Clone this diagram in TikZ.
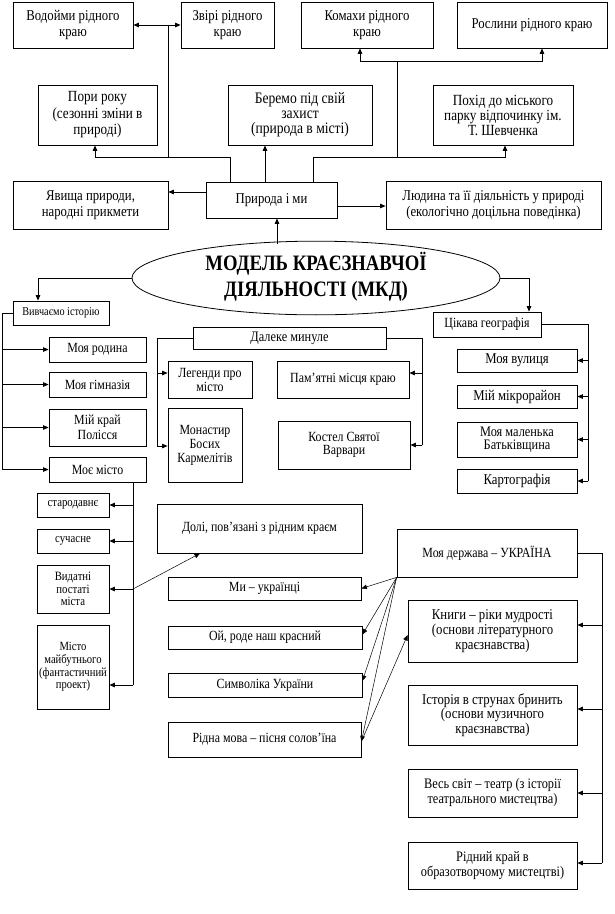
\documentclass[tikz,border=0pt]{standalone}
\usepackage{fontspec}
\setmainfont{Liberation Serif}[FakeStretch=0.85]
\usetikzlibrary{arrows.meta,shapes.geometric}
\tikzset{
  box/.style={draw,line width=0.8pt,align=center,inner sep=1pt,font=\fontsize{14}{15}\selectfont},
  topf/.style={font=\fontsize{15}{16}\selectfont},
  arr/.style={line width=0.8pt,-{Triangle[length=5.5pt,width=4.5pt]}},
  ln/.style={line width=0.8pt},
  thinarr/.style={line width=0.5pt,-{Triangle[length=5.5pt,width=4.5pt]}},
}
\newcommand\rb[7][]{\node[box,minimum width={#5-#3},minimum height={#6-#4},#1] (#2) at ({(#3+#5)/2},{(#4+#6)/2}) {#7};}
\begin{document}
\begin{tikzpicture}[x=1pt,y=-1pt]
\useasboundingbox[fill=white] (0,0) rectangle (614,914);
% top rows
\rb[topf]{vodoimy}{13}{2}{133}{48}{Водойми рідного\\краю}
\rb[topf]{zviri}{181}{2}{274}{48}{Звірі рідного\\краю}
\rb[topf]{komakhy}{301}{2}{433}{48}{Комахи рідного\\краю}
\rb[topf]{roslyny}{457}{2}{607}{48}{Рослини рідного краю}
\rb[font=\fontsize{15.5}{16.5}\selectfont]{pory}{38}{85}{157}{145}{Пори року\\(сезонні зміни в\\природі)}
\rb[font=\fontsize{16}{15}\selectfont]{beremo}{228}{85}{372}{145}{Беремо під свій\\захист\\(природа в місті)}
\rb[font=\fontsize{15.5}{15}\selectfont]{pokhid}{433}{85}{573}{145}{Похід до міського\\парку відпочинку ім.\\Т. Шевченка}
\rb[topf]{yavyshcha}{13}{181}{168}{229}{Явища природи,\\народні прикмети}
\rb[topf]{pryroda}{206}{182}{337}{218}{Природа і ми}
\rb[topf]{lyudyna}{386}{181}{601}{229}{Людина та її діяльність у природі\\(екологічно доцільна поведінка)}
\node[draw,ellipse,line width=0.8pt,minimum width=368,minimum height=70,inner sep=0pt,font=\fontsize{22}{26}\selectfont\bfseries] (model) at (316,278) {\raisebox{-6pt}{\begin{tabular}{@{}c@{}}МОДЕЛЬ КРАЄЗНАВЧОЇ\\ДІЯЛЬНОСТІ (МКД)\end{tabular}}};
% history
\rb[font=\fontsize{12}{13}\selectfont]{vyvchaiemo}{13}{301}{109}{325}{Вивчаємо історію}
\rb{rodyna}{49}{337}{146}{362}{Моя родина}
\rb{gimnaziia}{49}{372}{146}{397}{Моя гімназія}
\rb{krai}{49}{409}{146}{446}{Мій край\\Полісся}
\rb{misto}{49}{457}{146}{482}{Моє місто}
\rb[font=\fontsize{14.5}{14}\selectfont]{daleke}{193}{327}{386}{349}{Далеке минуле}
\rb[font=\fontsize{14}{14}\selectfont]{legendy}{168}{361}{252}{398}{Легенди про\\місто}
\rb[font=\fontsize{14}{14}\selectfont]{monastyr}{168}{408}{242}{482}{Монастир\\Босих\\Кармелітів}
\rb{pamiatni}{277}{361}{409}{398}{Пам’ятні місця краю}
\rb[font=\fontsize{14}{13.5}\selectfont]{kostel}{278}{421}{410}{469}{Костел Святої\\Варвари}
% geography
\rb{tsikava}{433}{312}{541}{337}{Цікава географія}
\rb[font=\fontsize{15}{15}\selectfont]{vulytsia}{457}{349}{577}{372}{Моя вулиця}
\rb[font=\fontsize{15}{15}\selectfont]{mikro}{457}{385}{577}{408}{Мій мікрорайон}
\rb[font=\fontsize{14.5}{13}\selectfont]{batkivshchyna}{457}{422}{577}{457}{Моя маленька\\Батьківщина}
\rb[font=\fontsize{15}{15}\selectfont]{kartohrafiia}{457}{469}{577}{493}{Картографія}
% city
\rb[font=\fontsize{12.7}{12.5}\selectfont]{starodavnie}{37}{493}{109}{517}{стародавнє}
\rb[font=\fontsize{12.7}{12.5}\selectfont]{suchasne}{37}{529}{109}{553}{сучасне}
\rb[font=\fontsize{12.7}{12.3}\selectfont]{vydatni}{37}{565}{109}{613}{Видатні\\постаті\\міста}
\rb[font=\fontsize{12.5}{12.7}\selectfont]{maibutnie}{37}{625}{109}{709}{Місто\\майбутнього\\(фантастичний\\проект)}
\rb{doli}{157}{504}{362}{553}{Долі, пов’язані з рідним краєм}
\rb{my}{168}{577}{361}{600}{Ми – українці}
\rb{oi}{168}{626}{362}{649}{Ой, роде наш красний}
\rb{symvolika}{168}{673}{362}{697}{Символіка України}
\rb{ridna}{168}{722}{361}{757}{Рідна мова – пісня солов’їна}
% state
\rb{derzhava}{397}{529}{577}{577}{Моя держава – УКРАЇНА}
\rb[font=\fontsize{15}{12.5}\selectfont]{knyhy}{408}{600}{577}{662}{Книги – ріки мудрості\\(основи літературного\\краєзнавства)}
\rb[font=\fontsize{15}{12.5}\selectfont]{istoriia}{408}{685}{577}{745}{Історія в струнах бринить\\(основи музичного\\краєзнавства)}
\rb[font=\fontsize{14.5}{15}\selectfont]{ves}{408}{769}{577}{817}{Весь світ – театр (з історії\\театрального мистецтва)}
\rb[font=\fontsize{14.5}{15}\selectfont]{ridnyi}{408}{842}{577}{889}{Рідний край в\\образотворчому мистецтві)}

% ---- connectors: top
\coordinate (jL) at (230,157);
\coordinate (jLp) at (95,157);
\coordinate (jV) at (168,25);
\coordinate (jM) at (265,157);
\coordinate (jR) at (313,157);
\coordinate (jRp) at (505,157);
\coordinate (jK) at (397,61);
\coordinate (jK1) at (360,61);
\coordinate (jK2) at (542,61);
\draw[arr] (pryroda.north -| jL) -- (jL) -- (jLp) -- (pory.south -| jLp);
\draw[ln] (jV |- jL) -- (jV);
\draw[arr] (jV) -- (vodoimy.east);
\draw[arr] (jV) -- (zviri.west);
\draw[arr] (pryroda.north -| jM) -- (beremo.south -| jM);
\draw[arr] (pryroda.north -| jR) -- (jR) -- (jRp) -- (pokhid.south -| jRp);
\draw[ln] (jK |- jR) -- (jK);
\draw[arr] (jK) -- (jK1) -- (komakhy.south -| jK1);
\draw[arr] (jK) -- (jK2) -- (roslyny.south -| jK2);
\coordinate (pL) at (206,192);
\coordinate (pR) at (337,206);
\draw[arr] (pryroda.west |- pL) -- (yavyshcha.east |- pL);
\draw[arr] (pryroda.east |- pR) -- (lyudyna.west |- pR);
\coordinate (eA) at (277,244);
\draw[arr] (eA) -- (pryroda.south -| eA);
\coordinate (vA) at (38,278);
\coordinate (gA) at (529,278);
\draw[arr] (model.west) -- (vA) -- (vyvchaiemo.north -| vA);
\draw[arr] (model.east) -- (gA) -- (tsikava.north -| gA);
% history
\coordinate (vL) at (2,313);
\draw[ln] (vyvchaiemo.west) -- (vL) -- (vL |- misto.west);
\draw[arr] (vL |- rodyna.west) -- (rodyna.west);
\draw[arr] (vL |- gimnaziia.west) -- (gimnaziia.west);
\draw[arr] (vL |- krai.west) -- (krai.west);
\draw[arr] (vL |- misto.west) -- (misto.west);
\coordinate (mB) at (133,685);
\draw[ln] (misto.south -| mB) -- (mB);
\draw[arr] (mB |- starodavnie.east) -- (starodavnie.east);
\draw[arr] (mB |- suchasne.east) -- (suchasne.east);
\draw[arr] (mB |- vydatni.east) -- (vydatni.east);
\draw[arr] (mB) -- (maibutnie.east |- mB);
\coordinate (dA) at (200,553);
\draw[thinarr] (mB |- vydatni.east) -- (doli.south -| dA);
% far past
\coordinate (dL) at (157,338);
\coordinate (dL1) at (157,373);
\coordinate (dL2) at (157,446);
\draw[ln] (daleke.west) -- (dL) -- (dL2);
\draw[arr] (dL1) -- (legendy.west |- dL1);
\draw[arr] (dL2) -- (monastyr.west |- dL2);
\coordinate (dR) at (422,338);
\coordinate (dR1) at (422,373);
\coordinate (dR2) at (422,445);
\draw[ln] (daleke.east) -- (dR) -- (dR2);
\draw[arr] (dR1) -- (pamiatni.east |- dR1);
\draw[arr] (dR2) -- (kostel.east |- dR2);
% geography
\coordinate (gR) at (588,324.5);
\draw[ln] (tsikava.east) -- (gR) -- (gR |- kartohrafiia.east);
\draw[arr] (gR |- vulytsia.east) -- (vulytsia.east);
\draw[arr] (gR |- mikro.east) -- (mikro.east);
\draw[arr] (gR |- batkivshchyna.east) -- (batkivshchyna.east);
\draw[arr] (gR |- kartohrafiia.east) -- (kartohrafiia.east);
% state
\draw[thinarr] (derzhava.south west) -- (my.east);
\draw[thinarr] (derzhava.south west) -- ([yshift=3pt]oi.east);
\draw[thinarr] (derzhava.south west) -- ([yshift=4pt]symvolika.east);
\draw[thinarr] (derzhava.south west) -- ([yshift=-2pt]ridna.east);
\draw[thinarr] ([yshift=-2pt]ridna.east) -- ([yshift=-4pt]knyhy.west);
\coordinate (hR) at (602,553);
\coordinate (hR1) at (602,625);
\coordinate (hR2) at (602,709);
\coordinate (hR3) at (602,793);
\coordinate (hR4) at (602,863);
\draw[ln] (derzhava.east |- hR) -- (hR) -- (hR4);
\draw[arr] (hR1) -- (knyhy.east |- hR1);
\draw[arr] (hR2) -- (istoriia.east |- hR2);
\draw[arr] (hR3) -- (ves.east |- hR3);
\draw[arr] (hR4) -- (ridnyi.east |- hR4);
\end{tikzpicture}
\end{document}
